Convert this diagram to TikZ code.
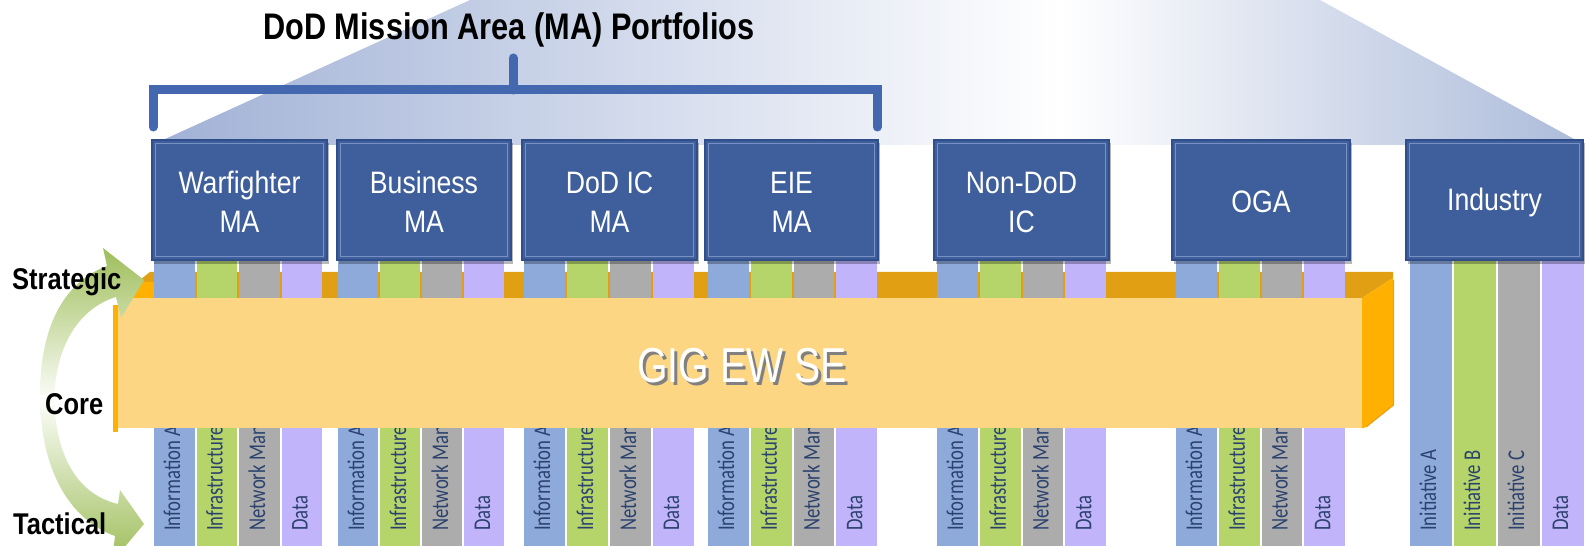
\documentclass[tikz,border=0pt]{standalone}
\usepackage{fontspec}
\setmainfont{Liberation Sans}
\newfontfamily\hdfont[FakeStretch=0.83]{Liberation Sans}
\newfontfamily\lbfont[FakeStretch=0.85]{Liberation Sans}
\newfontfamily\bxfont[FakeStretch=0.86]{Liberation Sans}
\newfontfamily\gigfont[FakeStretch=0.8]{Liberation Sans}
\newfontfamily\stfont[FakeStretch=0.78]{Carlito}
\definecolor{bgA}{RGB}{160,177,214}
\definecolor{bgB}{RGB}{172,187,218}
\definecolor{brk}{RGB}{68,104,175}
\definecolor{boxfill}{RGB}{62,94,156}
\definecolor{boxedge}{RGB}{47,78,138}
\definecolor{boxinner}{RGB}{120,145,196}
\definecolor{sBlue}{RGB}{142,170,219}
\definecolor{sGreen}{RGB}{181,213,107}
\definecolor{sGray}{RGB}{172,172,172}
\definecolor{sPurple}{RGB}{194,180,250}
\definecolor{stText}{RGB}{43,66,110}
\definecolor{gigFront}{RGB}{252,214,130}
\definecolor{gigTop}{RGB}{225,160,20}
\definecolor{gigSide}{RGB}{255,176,0}
\definecolor{arrG}{RGB}{158,190,90}
\definecolor{shadowT}{RGB}{128,128,128}
\tikzset{
  orgbox/.style={fill=boxfill, draw=boxedge, line width=1.5bp, inner sep=0},
  orgtext/.style={text=white, align=center, inner sep=0,
    font=\bxfont\fontsize{31bp}{39bp}\selectfont},
  striptext/.style={rotate=90, anchor=base west, inner sep=0, text=stText,
    font=\stfont\fontsize{24bp}{26bp}\selectfont},
  sidelbl/.style={anchor=base west, inner sep=0, text=black,
    font=\lbfont\bfseries\fontsize{30bp}{34bp}\selectfont},
  gigtext/.style={inner sep=0, font=\gigfont\fontsize{49bp}{52bp}\selectfont}
}
\newcommand\stripset[7]{%
  \pgfmathsetmacro\sw{(#3-#2)/4}
  \foreach \i/\c/\l in {0/sBlue/{#4},1/sGreen/{#5},2/sGray/{#6},3/sPurple/{#7}} {
    \fill[\c] ({#2+\i*\sw},255) rectangle ({#2+(\i+1)*\sw-1.8},552);
    \node[striptext] (st#1\i) at ({#2+\i*\sw+26},531) {\l};
  }}
\begin{document}
\begin{tikzpicture}[x=1bp,y=-1bp]
\useasboundingbox (0,0) rectangle (1585,546);
% background gradient trapezoid
\begin{scope}
  \clip (152,145) -- (470,0) -- (1320,0) -- (1585,145) -- cycle;
  \shade[left color=bgA, right color=white] (150,-1) rectangle (1060,146);
  \shade[left color=white, right color=bgB] (1060,-1) rectangle (1586,146);
\end{scope}
% header and bracket
\node[anchor=base west, inner sep=0, font=\hdfont\bfseries\fontsize{37bp}{40bp}\selectfont] (hdr) at (263,40) {DoD Mission Area (MA) Portfolios};
\coordinate (bl) at (153,127);
\coordinate (blt) at (153,90);
\coordinate (brt) at (877,90);
\coordinate (br) at (877,127);
\coordinate (stemtop) at (513,58);
\coordinate (stembot) at (513,90);
\draw[brk, line width=9bp, line cap=round, line join=miter] (bl) -- (blt) -- (brt) -- (br);
\draw[brk, line width=9bp, line cap=round] (stemtop) -- (stembot);
% GIG top face
\fill[gigTop] (117,298) -- (150,272) -- (1393,272) -- (1393,278) -- (1362,298) -- cycle;
\fill[gigSide] (117,298) -- (137,282) -- (156,282) -- (156,298) -- cycle;
% strips
\stripset{a}{154}{324}{Information Assurance}{Infrastructure}{Network Management}{Data}
\stripset{b}{338}{506}{Information Assurance}{Infrastructure}{Network Management}{Data}
\stripset{c}{524}{696}{Information Assurance}{Infrastructure}{Network Management}{Data}
\stripset{d}{708}{879}{Information Assurance}{Infrastructure}{Network Management}{Data}
\stripset{e}{937}{1108}{Information Assurance}{Infrastructure}{Network Management}{Data}
\stripset{f}{1176}{1347}{Information Assurance}{Infrastructure}{Network Management}{Data}
\stripset{g}{1410}{1586}{Initiative A}{Initiative B}{Initiative C}{Data}
% organisation boxes
\foreach \n/\a/\b/\t in {wf/152/327/{Warfighter\\MA}, bu/337/511/{Business\\MA},
    dic/522/697/{DoD IC\\MA}, eie/705/878/{EIE\\MA}, ndod/934/1109/{Non-DoD\\IC},
    oga/1172/1350/{OGA}, ind/1406/1583/{Industry}} {
  \fill[black, opacity=0.28] (\a+2,143) rectangle (\b+2,264);
  \node[orgbox, minimum width={(\b-\a)*1bp}, minimum height=120bp] (\n) at ({(\a+\b)/2},200) {};
  \node[orgtext] (\n t) at ({(\a+\b)/2},202) {\t};
  \draw[boxinner, line width=1.3bp] ([shift={(4.5,4.5)}]\n.north west) rectangle ([shift={(-4.5,-4.5)}]\n.south east);
}
% GIG front and side faces
\fill[gigSide] (113,305) rectangle (118,432);
\node[fill=gigFront, inner sep=0, minimum width=1244bp, minimum height=130bp] (gig) at (740,363) {};
\fill[gigSide] (1362,298) -- (1393,278) -- (1393,405) -- (1364,428) -- (1362,428) -- cycle;
\draw[gigSide!70!brown, line width=1.2bp] (1393.5,280) -- (1393.5,405) -- (1366,427);
\node[gigtext, text=shadowT] (gigsh) at (745,369) {GIG EW SE};
\node[gigtext, text=white] (gigtxt) at (742,366) {GIG EW SE};
% curved green arrows
\shade[top color=arrG, bottom color=white]
  (40,405) .. controls (38,330) and (62,283) .. (107,266) -- (103,248) -- (144,280)
  -- (121,318) -- (116,297) .. controls (80,308) and (54,345) .. (54,405) -- cycle;
\shade[top color=white, bottom color=arrG]
  (40,395) .. controls (40,470) and (70,520) .. (115,536) -- (112,562) -- (144,524)
  -- (120,490) -- (118,504) .. controls (80,495) and (55,460) .. (54,395) -- cycle;
% side labels
\node[sidelbl] (strat) at (12,290) {Strategic};
\node[sidelbl] (core) at (45,414) {Core};
\node[sidelbl] (tact) at (13,534) {Tactical};
\end{tikzpicture}
\end{document}
